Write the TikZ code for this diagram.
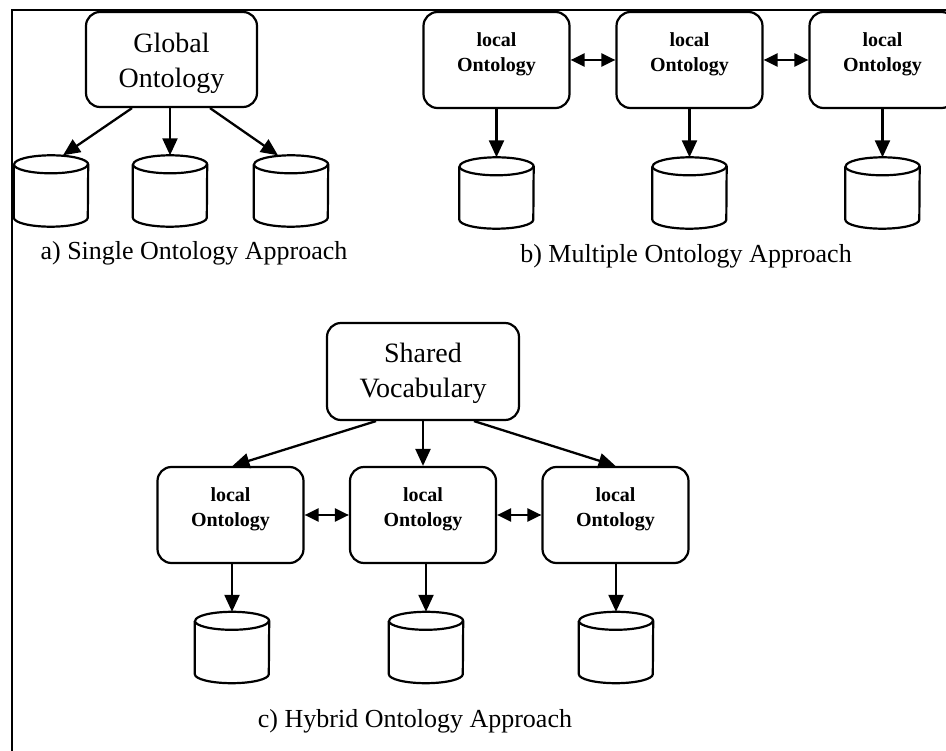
\documentclass[tikz,border=0pt]{standalone}
\usepackage{fontspec}
\setmainfont{Liberation Serif}
\usetikzlibrary{arrows.meta}
\newcommand\dbcyl[1]{%
  \draw[cylline] ([yshift=-9pt]#1.north west) -- ([yshift=9pt]#1.south west)
    arc[start angle=180, end angle=360, x radius=37pt, y radius=9pt]
    -- ([yshift=-9pt]#1.north east)
    arc[start angle=0, end angle=180, x radius=37pt, y radius=9pt];
  \draw[cylline] ([yshift=-9pt]#1.north west)
    arc[start angle=180, end angle=360, x radius=37pt, y radius=9pt];}
\begin{document}
\begin{tikzpicture}[x=1pt,y=-1pt,
  box/.style={draw, line width=2.2pt, rounded corners=14pt, inner sep=0pt},
  db/.style={shape=rectangle, minimum width=74pt, minimum height=71pt, inner sep=0pt},
  cylline/.style={line width=2.2pt, line join=round},
  arr/.style={line width=2.3pt, -{Triangle[length=17pt,width=15pt]}},
  darr/.style={line width=2.3pt, {Triangle[length=14pt,width=13pt]}-{Triangle[length=14pt,width=13pt]}},
  big/.style={font=\fontsize{28}{35}\selectfont, align=center, inner sep=0pt},
  loc/.style={font=\fontsize{20}{25}\selectfont\bfseries, align=center, inner sep=0pt},
  captxt/.style={font=\fontsize{26}{30}\selectfont, anchor=base, inner sep=0pt},
  outline/.style={line width=2.6pt}
]
\clip (0,0) rectangle (946,751);
\fill[white] (0,0) rectangle (946,751);

% frame (top and left edges)
\coordinate (fa) at (946,10);
\coordinate (fo) at (12,10);
\coordinate (fb) at (12,751);
\draw[outline] (fa) -- (fo) -- (fb);

% ---------- a) single ontology ----------
\node[box, minimum width=171pt, minimum height=95pt] (ga) at (171.5,59.5) {};
\node[big] (gat) at (171.5,63) {Global\\Ontology};
\node[db] (ca1) at (51,191) {};
\node[db] (ca2) at (170,191) {};
\node[db] (ca3) at (291,191) {};
\dbcyl{ca1}\dbcyl{ca2}\dbcyl{ca3}
\draw[arr] ([xshift=-39.5pt]ga.south) -- ([xshift=12pt]ca1.north);
\draw[arr] (ga.south -| ca2.north) -- (ca2.north);
\draw[arr] ([xshift=38.5pt]ga.south) -- ([xshift=-13pt]ca3.north);
\node[captxt] (capa) at (194,260) {a) Single Ontology Approach};

% ---------- b) multiple ontology ----------
\node[box, minimum width=146pt, minimum height=96pt] (b1) at (496.5,60) {};
\node[box, minimum width=146pt, minimum height=96pt] (b2) at (689.5,60) {};
\node[box, minimum width=146pt, minimum height=96pt] (b3) at (882.5,60) {};
\node[loc] (b1t) at (496.5,54) {local\\Ontology};
\node[loc] (b2t) at (689.5,54) {local\\Ontology};
\node[loc] (b3t) at (882.5,54) {local\\Ontology};
\node[db] (cb1) at (496.5,193) {};
\node[db] (cb2) at (689.5,193) {};
\node[db] (cb3) at (882.5,193) {};
\dbcyl{cb1}\dbcyl{cb2}\dbcyl{cb3}
\draw[darr] (b1.east) -- (b2.west);
\draw[darr] (b2.east) -- (b3.west);
\draw[arr] (b1.south) -- (cb1.north);
\draw[arr] (b2.south) -- (cb2.north);
\draw[arr] (b3.south) -- (cb3.north);
\node[captxt] (capb) at (686,263) {b) Multiple Ontology Approach};

% ---------- c) hybrid ontology ----------
\node[box, minimum width=192pt, minimum height=97pt] (sv) at (423,371.5) {};
\node[big] (svt) at (423,373) {Shared\\Vocabulary};
\node[box, minimum width=146pt, minimum height=96pt] (c1) at (230.5,515) {};
\node[box, minimum width=146pt, minimum height=96pt] (c2) at (423,515) {};
\node[box, minimum width=146pt, minimum height=96pt] (c3) at (615.5,515) {};
\node[loc] (c1t) at (230.5,509) {local\\Ontology};
\node[loc] (c2t) at (423,509) {local\\Ontology};
\node[loc] (c3t) at (615.5,509) {local\\Ontology};
\node[db] (cc1) at (232,647.5) {};
\node[db] (cc2) at (426,647.5) {};
\node[db] (cc3) at (616,647.5) {};
\dbcyl{cc1}\dbcyl{cc2}\dbcyl{cc3}
\draw[arr] ([xshift=-47pt]sv.south) -- ([xshift=2pt]c1.north);
\draw[arr] (sv.south) -- (c2.north);
\draw[arr] ([xshift=51pt]sv.south) -- (c3.north);
\draw[darr] (c1.east) -- (c2.west);
\draw[darr] (c2.east) -- (c3.west);
\draw[arr] (c1.south -| cc1.north) -- (cc1.north);
\draw[arr] (c2.south -| cc2.north) -- (cc2.north);
\draw[arr] (c3.south -| cc3.north) -- (cc3.north);
\node[captxt] (capc) at (415,727) {c) Hybrid Ontology Approach};
\end{tikzpicture}
\end{document}
